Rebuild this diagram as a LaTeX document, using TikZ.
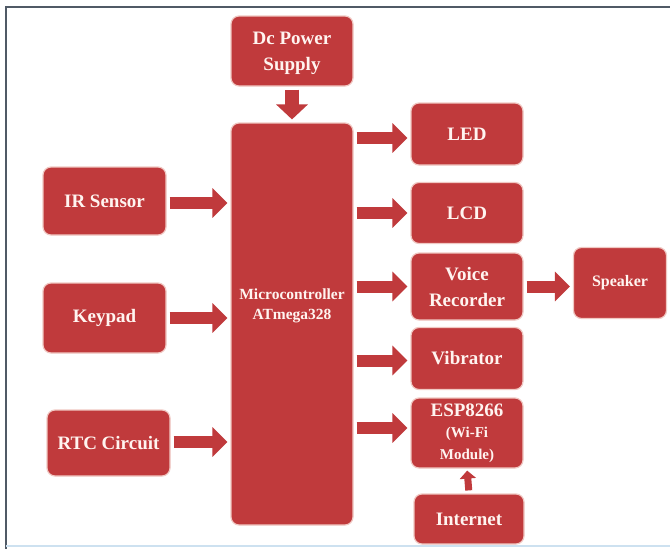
\documentclass[tikz,border=0pt]{standalone}
\usepackage{fontspec}
\setmainfont{Liberation Serif}
\usetikzlibrary{arrows.meta}
\definecolor{boxred}{RGB}{192,58,60}
\definecolor{boxedge}{RGB}{240,200,195}
\definecolor{txtwhite}{RGB}{255,244,240}
\definecolor{framegray}{RGB}{80,90,102}
\definecolor{framelight}{RGB}{205,225,240}
\tikzset{
  blk/.style={rectangle, rounded corners=8pt, fill=boxred, draw=boxedge, line width=1.2pt,
    text=txtwhite, align=center, inner sep=2pt,
    font=\bfseries\fontsize{19}{26}\selectfont},
  plaintxt/.style={text=txtwhite, align=center, inner sep=0pt,
    font=\bfseries\fontsize{15.5}{20}\selectfont},
  fatarrow/.style={draw=boxred, line width=12pt,
    -{Triangle[length=15pt,width=29pt]}, shorten <=3pt, shorten >=3pt},
  thinarrow/.style={draw=boxred, line width=7pt,
    -{Triangle[length=8pt,width=16pt]}, shorten <=3pt, shorten >=2pt}
}
\begin{document}
\begin{tikzpicture}[x=1pt,y=-1pt]
\useasboundingbox (0,0) rectangle (670,549);
\fill[white] (0,0) rectangle (670,549);
% frame
\draw[framegray, line width=2pt] (6,549) -- (6,7) -- (670,7);
\draw[framelight, line width=1.5pt] (6,546) -- (670,546);

% nodes
\node[blk, minimum width=122pt, minimum height=70pt, text depth=0pt] (dc) at (292,51) {Dc Power\\Supply};
\node[blk, minimum width=122pt, minimum height=402pt] (mc) at (292,324) {};
\node[plaintxt] (mctext) at (292,306) {Microcontroller\\ATmega328};
\node[blk, minimum width=123pt, minimum height=68pt] (ir) at (104.5,201) {IR Sensor};
\node[blk, minimum width=123pt, minimum height=70pt] (key) at (104.5,318) {Keypad};
\node[blk, minimum width=123pt, minimum height=66pt] (rtc) at (108.5,443) {RTC Circuit};
\node[blk, minimum width=112pt, minimum height=62pt] (led) at (467,134) {LED};
\node[blk, minimum width=112pt, minimum height=61pt] (lcd) at (467,213) {LCD};
\node[blk, minimum width=112pt, minimum height=67pt] (voice) at (467,286.5) {Voice\\Recorder};
\node[blk, minimum width=112pt, minimum height=62pt] (vib) at (467,358.5) {Vibrator};
\node[blk, minimum width=112pt, minimum height=70pt] (esp) at (467,433) {ESP8266\\[-5pt]{\fontsize{15}{20}\selectfont (Wi-Fi}\\[-4pt]{\fontsize{15}{20}\selectfont Module)}};
\node[blk, minimum width=110pt, minimum height=50pt] (inet) at (469,519) {Internet};
\node[blk, minimum width=93pt, minimum height=71pt, font=\bfseries\fontsize{16}{20}\selectfont] (spk) at (620,283) {Speaker};

% arrows
\draw[fatarrow, line width=14pt, -{Triangle[length=15pt,width=31pt]}] (dc.south) -- (mc.north);
\draw[fatarrow] ([yshift=-2pt]ir.east) -- ([yshift=-2pt]ir.east -| mc.west);
\draw[fatarrow] (key.east) -- (key.east -| mc.west);
\draw[fatarrow] ([yshift=1pt]rtc.east) -- ([yshift=1pt]rtc.east -| mc.west);
\draw[fatarrow] ([yshift=-4pt]led.west -| mc.east) -- ([yshift=-4pt]led.west);
\draw[fatarrow] (lcd.west -| mc.east) -- (lcd.west);
\draw[fatarrow] (voice.west -| mc.east) -- (voice.west);
\draw[fatarrow] ([yshift=-2pt]vib.west -| mc.east) -- ([yshift=-2pt]vib.west);
\draw[fatarrow] ([yshift=5pt]esp.west -| mc.east) -- ([yshift=5pt]esp.west);
\draw[fatarrow] (voice.east) -- (voice.east -| spk.west);
\draw[thinarrow] (inet.north) -- (esp.south);
\end{tikzpicture}
\end{document}
